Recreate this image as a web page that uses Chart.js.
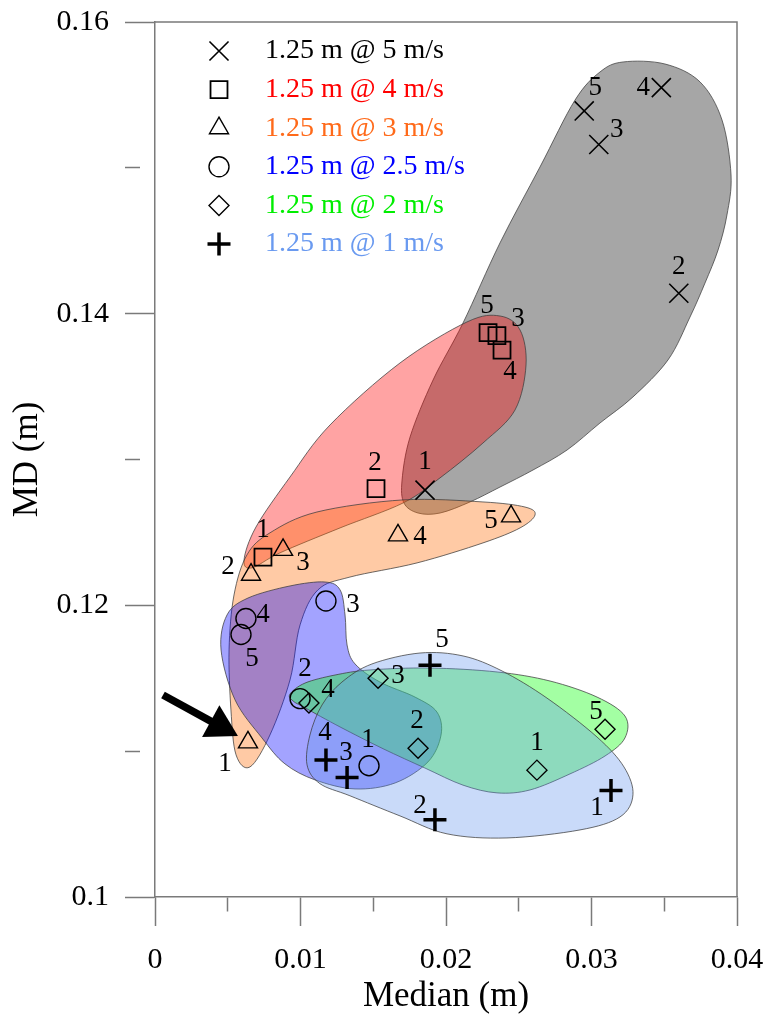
<!DOCTYPE html>
<html>
<head>
<meta charset="utf-8">
<script src="https://cdn.jsdelivr.net/npm/chart.js@4.4.0/dist/chart.umd.min.js"></script>
<style>
  body { margin: 0; background: #fff; }
</style>
</head>
<body>
<canvas id="myChart" width="776" height="1014"></canvas>
<script>

// data: Median (x) and MD (y) for runs 1..5

var runLabels = ['1', '2', '3', '4', '5'];

var median5 = [0.01856, 0.0360, 0.0305, 0.0348, 0.0295];
var md5 = [0.1279, 0.1414, 0.1516, 0.1555, 0.1539];

var median4 = [0.00742, 0.01519, 0.0235, 0.02385, 0.02289];
var md4 = [0.1233, 0.1280, 0.1385, 0.1375, 0.1387];

var median3 = [0.00639, 0.0066, 0.0088, 0.0167, 0.02447];
var md3 = [0.1106, 0.1221, 0.1238, 0.1248, 0.1261];

var median25 = [0.01471, 0.00997, 0.01175, 0.00625, 0.00591];
var md25 = [0.1090, 0.1136, 0.1203, 0.1191, 0.1180];

var median2 = [0.02625, 0.01808, 0.01533, 0.01058, 0.03093];
var md2 = [0.1087, 0.1102, 0.1150, 0.1133, 0.1115];

var median1 = [0.03134, 0.01924, 0.0132, 0.01175, 0.0189];
var md1 = [0.1073, 0.1053, 0.1082, 0.1094, 0.1159];

// shaded regions, outline points in data units (median, MD)

var blob5 = [[0.03217,0.15726],[0.03505,0.15712],[0.03746,0.15589],[0.03897,0.15328],[0.03959,0.14951],
  [0.03931,0.14677],[0.03870,0.14437],[0.03780,0.14210],[0.03677,0.13977],[0.03526,0.13683],[0.03285,0.13429],[0.03058,0.13250],
  [0.02832,0.13065],[0.02598,0.12928],[0.02371,0.12811],[0.02165,0.12709],[0.01959,0.12633],
  [0.01808,0.12633],[0.01711,0.12702],[0.01698,0.12859],[0.01753,0.13154],[0.01911,0.13545],
  [0.02117,0.13936],[0.02371,0.14485],[0.02646,0.15006],[0.02887,0.15465],[0.03058,0.15657]];

var blob4 = [[0.00612,0.12311],[0.00694,0.12537],[0.00928,0.12880],[0.01203,0.13237],[0.01684,0.13662],
  [0.02144,0.13943],[0.02371,0.13984],[0.02509,0.13888],[0.02550,0.13648],[0.02474,0.13339],
  [0.02254,0.13113],[0.01959,0.12874],[0.01705,0.12702],[0.01272,0.12531],[0.00859,0.12360],
  [0.00667,0.12257]];

var blob3 = [[0.02612,0.12620],[0.02509,0.12531],[0.02254,0.12428],[0.01801,0.12291],[0.01340,0.12194],
  [0.01120,0.12106],[0.00997,0.11866],[0.00928,0.11489],[0.00790,0.11111],[0.00653,0.10892],
  [0.00557,0.10975],[0.00522,0.11283],[0.00509,0.11695],[0.00543,0.12071],[0.00632,0.12346],
  [0.00790,0.12497],[0.01113,0.12640],[0.01705,0.12723],[0.02254,0.12709],[0.02543,0.12674]];

var blob25 = [[0.00454,0.11694],[0.00495,0.11934],[0.00639,0.12050],[0.00928,0.12133],[0.01168,0.12160],
  [0.01272,0.12106],[0.01306,0.11934],[0.01320,0.11728],[0.01375,0.11598],[0.01546,0.11474],
  [0.01787,0.11371],[0.01938,0.11268],[0.01966,0.11111],[0.01876,0.10926],[0.01650,0.10782],
  [0.01375,0.10741],[0.01100,0.10803],[0.00893,0.10913],[0.00735,0.11091],[0.00550,0.11352]];

var blob2 = [[0.00928,0.11392],[0.01031,0.11467],[0.01237,0.11522],[0.01478,0.11557],[0.01890,0.11570],
  [0.02351,0.11543],[0.02715,0.11481],[0.03038,0.11371],[0.03230,0.11241],[0.03230,0.11091],
  [0.03093,0.10967],[0.02852,0.10844],[0.02577,0.10734],[0.02351,0.10714],[0.02117,0.10767],
  [0.01856,0.10884],[0.01567,0.11017],[0.01272,0.11166],[0.01031,0.11297],[0.00948,0.11345]];

var blob1 = [[0.01045,0.10906],[0.01065,0.11111],[0.01148,0.11317],[0.01285,0.11474],[0.01491,0.11598],
  [0.01821,0.11673],[0.02117,0.11653],[0.02385,0.11550],[0.02694,0.11364],[0.03038,0.11097],
  [0.03223,0.10892],[0.03285,0.10701],[0.03196,0.10549],[0.02921,0.10460],[0.02419,0.10405],
  [0.02007,0.10433],[0.01684,0.10556],[0.01340,0.10694],[0.01134,0.10777]];

// arrow pointing at run 1 @ 3 m/s
var arrowFrom = [0.00055, 0.11385];
var arrowTo = [0.0057, 0.11104];

var FONT = 'Liberation Serif';
var AXIS = '#7a7a7a';

// styles per series (offsets of the run numbers in px)
var series = [
  { label: '1.25 m @ 5 m/s', x: median5, y: md5, blob: blob5, text: '#000000', fill: 'rgba(0,0,0,0.35)',
    style: 'crossRot', radius: 13.5, width: 1.6,
    offsets: [[0,-28],[0,-26],[18,-15],[-18,0],[11,-23]] },
  { label: '1.25 m @ 4 m/s', x: median4, y: md4, blob: blob4, text: '#ff0000', fill: 'rgba(255,0,0,0.36)',
    style: 'rect', radius: 12, width: 1.8,
    offsets: [[0,-27],[-1,-26],[21,-17],[8,22],[-1,-27]] },
  { label: '1.25 m @ 3 m/s', x: median3, y: md3, blob: blob3, text: '#ff6a1a', fill: 'rgba(255,110,10,0.37)',
    style: 'triangle', radius: 11, width: 1.4,
    offsets: [[-23,21],[-23,-8],[20,13],[22,2],[-20,5]] },
  { label: '1.25 m @ 2.5 m/s', x: median25, y: md25, blob: blob25, text: '#0000ff', fill: 'rgba(0,0,255,0.36)',
    style: 'circle', radius: 10, width: 1.4,
    offsets: [[-1,-26],[5,-30],[27,4],[17,-4],[11,24]] },
  { label: '1.25 m @ 2 m/s', x: median2, y: md2, blob: blob2, text: '#00ee00', fill: 'rgba(0,255,0,0.36)',
    style: 'rectRot', radius: 10, width: 1.4,
    offsets: [[0,-27],[-1,-27],[20,-2],[19,-13],[-9,-17]] },
  { label: '1.25 m @ 1 m/s', x: median1, y: md1, blob: blob1, text: '#6a9af0', fill: 'rgba(100,149,237,0.35)',
    style: 'cross', radius: 11.5, width: 3.5,
    offsets: [[-14,17],[-15,-14],[-1,-25],[-1,-27],[12,-25]] }
];

function isMajorX(v){
  return Math.abs(v * 100 - Math.round(v * 100)) < 1e-6;
}

function isMajorY(v){
  var k = Math.round(v * 100);
  return Math.abs(v * 100 - k) < 1e-6 && k % 2 === 0;
}

// closed smooth curve through the outline points
function drawBlob(ctx, sx, sy, outline, fill){
  var pts = outline.map(function(p){
    return { x: sx.getPixelForValue(p[0]), y: sy.getPixelForValue(p[1]) };
  });
  var n = pts.length;
  ctx.beginPath();
  ctx.moveTo(pts[0].x, pts[0].y);
  for (var i = 0; i < n; i++) {
    var p0 = pts[(i - 1 + n) % n], p1 = pts[i], p2 = pts[(i + 1) % n], p3 = pts[(i + 2) % n];
    ctx.bezierCurveTo(
      p1.x + (p2.x - p0.x) / 6, p1.y + (p2.y - p0.y) / 6,
      p2.x - (p3.x - p1.x) / 6, p2.y - (p3.y - p1.y) / 6,
      p2.x, p2.y);
  }
  ctx.closePath();
  ctx.fillStyle = fill;
  ctx.fill();
  ctx.lineWidth = 1;
  ctx.strokeStyle = 'rgba(60,60,60,0.75)';
  ctx.stroke();
}

// no extra room for the end labels, the layout padding decides the plot box
function noLabelPadding(scale){
  scale.paddingTop = 0;
  scale.paddingBottom = 0;
  scale.paddingLeft = 0;
  scale.paddingRight = 0;
}

var blobsPlugin = {
  id: 'blobs',
  beforeDatasetsDraw: function(chart){
    var ctx = chart.ctx, a = chart.chartArea;
    ctx.save();
    ctx.beginPath();
    ctx.rect(a.left, a.top, a.right - a.left, a.bottom - a.top);
    ctx.clip();
    series.forEach(function(s){
      drawBlob(ctx, chart.scales.x, chart.scales.y, s.blob, s.fill);
    });
    ctx.restore();
  }
};

var extrasPlugin = {
  id: 'extras',
  afterDatasetsDraw: function(chart){
    var ctx = chart.ctx, a = chart.chartArea;
    var sx = chart.scales.x, sy = chart.scales.y;
    ctx.save();

    // run numbers
    ctx.font = '27px "' + FONT + '"';
    ctx.fillStyle = '#000';
    ctx.textAlign = 'center';
    ctx.textBaseline = 'middle';
    series.forEach(function(s, i){
      var meta = chart.getDatasetMeta(i);
      meta.data.forEach(function(pt, j){
        ctx.fillText(runLabels[j], pt.x + s.offsets[j][0], pt.y + s.offsets[j][1]);
      });
    });

    // arrow
    var x1 = sx.getPixelForValue(arrowFrom[0]), y1 = sy.getPixelForValue(arrowFrom[1]);
    var x2 = sx.getPixelForValue(arrowTo[0]), y2 = sy.getPixelForValue(arrowTo[1]);
    var ang = Math.atan2(y2 - y1, x2 - x1);
    var headLen = 31, headW = 18;
    var bx = x2 - Math.cos(ang) * headLen, by = y2 - Math.sin(ang) * headLen;
    ctx.strokeStyle = '#000';
    ctx.lineWidth = 7.5;
    ctx.beginPath();
    ctx.moveTo(x1, y1);
    ctx.lineTo(bx + Math.cos(ang) * 2, by + Math.sin(ang) * 2);
    ctx.stroke();
    ctx.fillStyle = '#000';
    ctx.beginPath();
    ctx.moveTo(x2, y2);
    ctx.lineTo(bx - Math.sin(ang) * headW, by + Math.cos(ang) * headW);
    ctx.lineTo(bx + Math.sin(ang) * headW, by - Math.cos(ang) * headW);
    ctx.closePath();
    ctx.fill();

    // legend
    ctx.font = '28px "' + FONT + '"';
    ctx.textAlign = 'left';
    series.forEach(function(s, i){
      var ly = a.top + 29 + i * 38.6;
      ctx.strokeStyle = '#000';
      ctx.fillStyle = 'rgba(0,0,0,0)';
      ctx.lineWidth = s.width;
      Chart.helpers.drawPoint(ctx, { pointStyle: s.style, radius: s.radius, rotation: 0, borderWidth: s.width }, a.left + 64, ly);
      ctx.fillStyle = s.text;
      ctx.fillText(s.label, a.left + 110, ly);
    });

    ctx.restore();
  },
  afterDraw: function(chart){
    var ctx = chart.ctx, a = chart.chartArea;
    ctx.save();
    ctx.strokeStyle = AXIS;
    ctx.lineWidth = 1.5;
    ctx.beginPath();
    ctx.moveTo(a.left, a.top);
    ctx.lineTo(a.right, a.top);
    ctx.lineTo(a.right, a.bottom);
    ctx.stroke();
    ctx.restore();
  }
};

var datasets = series.map(function(s){
  return {
    label: s.label,
    data: s.x.map(function(v, i){ return { x: v, y: s.y[i] }; }),
    pointStyle: s.style,
    pointRadius: s.radius,
    pointBorderWidth: s.width,
    pointBorderColor: '#000',
    pointBackgroundColor: 'rgba(0,0,0,0)',
    showLine: false
  };
});

var ctx = document.getElementById('myChart');
var chart = new Chart(ctx, {
  type: 'scatter',
  data: { datasets: datasets },
  options: {
    responsive: false,
    animation: false,
    events: [],
    layout: { padding: { left: 0, right: 39, top: 22, bottom: 0 } },
    plugins: {
      legend: { display: false },
      tooltip: { enabled: false }
    },
    scales: {
      x: {
        type: 'linear',
        min: 0,
        max: 0.04,
        afterFit: function(scale){ scale.height = 117; noLabelPadding(scale); },
        border: { display: true, color: AXIS, width: 1.5 },
        grid: {
          drawOnChartArea: false,
          drawTicks: true,
          tickLength: 29,
          tickColor: AXIS,
          tickWidth: 1.5,
          tickBorderDash: function(c){ return isMajorX(c.tick.value) ? [] : [14, 200]; }
        },
        ticks: {
          stepSize: 0.005,
          autoSkip: false,
          maxRotation: 0,
          padding: 16,
          color: '#000',
          font: { family: FONT, size: 30 },
          callback: function(v){ return isMajorX(v) ? String(Math.round(v * 100) / 100) : ''; }
        },
        title: {
          display: true,
          text: 'Median (m)',
          color: '#000',
          font: { family: FONT, size: 35, lineHeight: 1 },
          padding: { top: 0, bottom: 0 }
        }
      },
      y: {
        type: 'linear',
        min: 0.1,
        max: 0.16,
        afterFit: function(scale){ scale.width = 155; noLabelPadding(scale); },
        border: { display: true, color: AXIS, width: 1.5 },
        grid: {
          drawOnChartArea: false,
          drawTicks: true,
          tickLength: 30,
          tickColor: AXIS,
          tickWidth: 1.5,
          tickBorderDash: function(c){ return isMajorY(c.tick.value) ? [] : [15, 200]; }
        },
        ticks: {
          stepSize: 0.01,
          autoSkip: false,
          padding: 16,
          color: '#000',
          font: { family: FONT, size: 30 },
          callback: function(v){ return isMajorY(v) ? String(Math.round(v * 100) / 100) : ''; }
        },
        title: {
          display: true,
          text: 'MD (m)',
          color: '#000',
          font: { family: FONT, size: 35, lineHeight: 1 },
          padding: { top: 10, bottom: 0 }
        }
      }
    }
  },
  plugins: [blobsPlugin, extrasPlugin]
});

</script>
</body>
</html>
